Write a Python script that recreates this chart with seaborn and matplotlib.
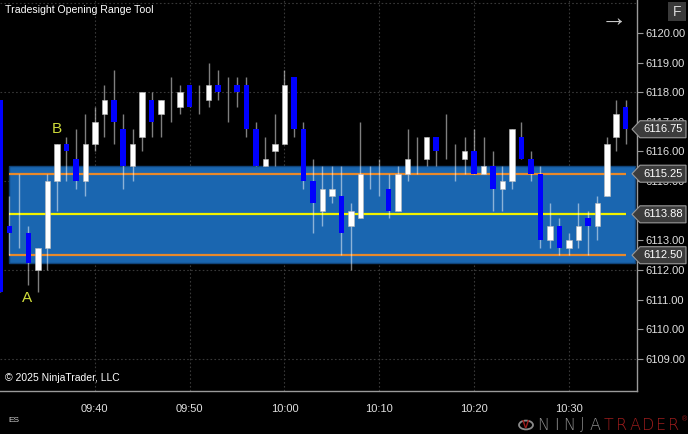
import numpy as np
import matplotlib
matplotlib.use("Agg")
import matplotlib.pyplot as plt
import matplotlib.transforms as mtransforms
from matplotlib.patches import Polygon, Rectangle, Circle
import seaborn as sns

# 1-minute bars, 09:30 .. 10:36
opens = [6117.75, 6113.5, 6113.5, 6113.25, 6112.0, 6112.75, 6115.0, 6116.25, 6115.75, 6115.0,
         6116.25, 6117.25, 6117.75, 6116.75, 6115.5, 6116.5, 6117.75, 6117.25, 6117.75, 6117.5,
         6118.25, 6117.75, 6117.75, 6118.25, 6118.0, 6118.25, 6118.25, 6116.75, 6115.5, 6116.0,
         6116.25, 6118.5, 6116.75, 6115.0, 6114.0, 6114.5, 6114.5, 6113.5, 6113.75, 6115.25,
         6115.0, 6114.75, 6114.0, 6115.25, 6116.0, 6115.75, 6116.5, 6116.5, 6115.5, 6115.75,
         6116.0, 6115.25, 6115.5, 6114.75, 6115.0, 6116.5, 6115.75, 6115.25, 6113.0, 6113.5,
         6112.75, 6113.0, 6113.75, 6113.5, 6114.5, 6116.5, 6117.5]
highs = [6117.75, 6114.5, 6115.25, 6113.5, 6112.75, 6115.25, 6116.25, 6116.5, 6116.75, 6117.25,
         6117.5, 6118.25, 6118.75, 6117.25, 6116.75, 6118.0, 6118.0, 6117.75, 6118.5, 6118.25,
         6118.25, 6118.25, 6119.0, 6118.75, 6118.5, 6118.5, 6118.5, 6117.0, 6116.5, 6117.25,
         6118.75, 6118.5, 6117.0, 6115.75, 6115.5, 6115.5, 6115.5, 6114.25, 6117.0, 6115.5,
         6115.75, 6115.25, 6115.5, 6116.75, 6116.5, 6116.5, 6116.5, 6117.25, 6116.25, 6116.5,
         6116.75, 6116.5, 6116.0, 6115.5, 6116.75, 6117.0, 6116.0, 6115.5, 6114.25, 6113.75,
         6113.25, 6114.25, 6114.0, 6114.5, 6116.5, 6117.75, 6117.75]
lows = [6111.25, 6112.5, 6112.75, 6111.5, 6111.25, 6112.0, 6114.0, 6115.0, 6114.75, 6114.5,
        6116.0, 6116.5, 6116.25, 6114.75, 6115.0, 6116.0, 6116.5, 6116.5, 6117.0, 6117.25,
        6117.5, 6117.25, 6117.5, 6117.75, 6117.0, 6117.5, 6116.5, 6115.5, 6115.5, 6115.5,
        6116.25, 6116.5, 6114.75, 6113.25, 6113.5, 6114.25, 6112.5, 6112.0, 6113.75, 6114.75,
        6114.5, 6113.75, 6114.0, 6115.0, 6115.25, 6115.5, 6115.5, 6115.75, 6115.0, 6115.25,
        6115.25, 6115.25, 6114.0, 6114.0, 6114.75, 6115.75, 6115.0, 6112.75, 6112.75, 6112.5,
        6112.5, 6112.75, 6112.5, 6113.0, 6114.5, 6116.0, 6116.25]
closes = [6111.25, 6113.25, 6113.5, 6112.25, 6112.75, 6115.0, 6116.25, 6116.0, 6115.0, 6116.25,
          6117.0, 6117.75, 6117.0, 6115.5, 6116.25, 6118.0, 6117.0, 6117.75, 6117.75, 6118.0,
          6117.5, 6117.75, 6118.25, 6118.0, 6118.0, 6118.0, 6116.75, 6115.5, 6115.75, 6116.25,
          6118.25, 6116.75, 6115.0, 6114.25, 6114.75, 6114.75, 6113.25, 6114.0, 6115.25, 6115.25,
          6115.0, 6114.0, 6115.25, 6115.75, 6116.0, 6116.5, 6116.0, 6116.5, 6115.5, 6116.0,
          6115.25, 6115.5, 6114.75, 6115.0, 6116.75, 6115.75, 6115.25, 6113.0, 6113.5, 6112.75,
          6113.0, 6113.5, 6113.5, 6114.25, 6116.25, 6117.25, 6116.75]

time_ticks = [10, 20, 30, 40, 50, 60]
time_labels = ["09:40", "09:50", "10:00", "10:10", "10:20", "10:30"]
# 6114.00 sits fully behind the 6113.88 tag in the original, so it is left out
price_ticks = [6109, 6110, 6111, 6112, 6113, 6115, 6116, 6117, 6118, 6119, 6120]
grid_prices = [6109, 6112, 6115, 6118, 6121]

range_high = 6115.25
range_low = 6112.50
range_mid = 6113.88
last_price = 6116.75
box_top = 6115.5
box_bottom = 6112.25

sns.set_theme(style="dark", rc={"axes.facecolor": "black", "figure.facecolor": "black"})
plt.rcParams['font.family'] = ['Liberation Sans', 'DejaVu Sans']

df_t = np.arange(len(opens))
o = np.array(opens)
c = np.array(closes)

fig = plt.figure(figsize=(6.88, 4.34), dpi=100)
ax = fig.add_axes([0, 43 / 434, 637 / 688, 391 / 434])
ax.set_facecolor("black")
ax.set_xlim(0, 67.19)
ax.set_ylim(6107.92, 6121.11)

# grid
for p in grid_prices:
    ax.axhline(p, color="#383838", lw=0.8, ls=(0, (1.5, 2)), zorder=0)
for t in time_ticks:
    ax.axvline(t, color="#383838", lw=0.8, ls=(0, (1.5, 2)), zorder=0)

# opening range box and lines
ax.add_patch(Rectangle((1, box_bottom), 66, box_top - box_bottom,
                       facecolor="#1a66b0", edgecolor="#10447a", lw=1, zorder=1))
ax.hlines([range_high, range_low], 1, 66, color="#e8892b", lw=1.6, zorder=2)
ax.hlines(range_mid, 1, 66, color="#f2f200", lw=1.6, zorder=2)

# candles
ax.vlines(df_t, lows, highs, color=(1, 1, 1, 0.5), lw=1, zorder=3)
up = c > o
down = c < o
ax.bar(df_t[up], (c - o)[up], bottom=o[up], width=0.58, color="white",
       edgecolor="#bbbbbb", linewidth=0.4, zorder=4)
ax.bar(df_t[down], (c - o)[down], bottom=o[down], width=0.58, color="#0000ff",
       linewidth=0, zorder=4)

# A / B markers
ax.text(2.9, 6111.05, "A", color="#cfdc3a", fontsize=11, ha="center", va="center", zorder=5)
ax.text(6.0, 6116.75, "B", color="#cfdc3a", fontsize=11, ha="center", va="center", zorder=5)

# axes styling
ax.yaxis.tick_right()
ax.set_yticks(price_ticks)
ax.set_yticklabels([f"{p:.2f}" for p in price_ticks])
ax.set_xticks(time_ticks)
ax.set_xticklabels(time_labels)
ax.tick_params(axis="both", colors="#9a9a9a", labelcolor="#e0e0e0", length=4, width=0.8,
               direction="out", labelsize=8)
ax.tick_params(axis="x", pad=5)
ax.tick_params(axis="y", pad=2)
for side in ["top", "left"]:
    ax.spines[side].set_visible(False)
for side in ["right", "bottom"]:
    ax.spines[side].set_visible(True)
    ax.spines[side].set_color("#9a9a9a")
    ax.spines[side].set_linewidth(1)
ax.grid(False)

# price tags on the right axis
blend = mtransforms.blended_transform_factory(ax.transAxes, ax.transData)
half = 8.5 / 29.64
for p in [last_price, range_high, range_mid, range_low]:
    x0, x1, x2 = 632 / 637, 640 / 637, 686 / 637
    poly = Polygon([(x0, p), (x1, p + half), (x2, p + half), (x2, p - half), (x1, p - half)],
                   closed=True, transform=blend, facecolor="#3c3c3c", edgecolor="#9a9a9a",
                   lw=0.8, clip_on=False, zorder=10)
    ax.add_patch(poly)
    ax.text(663 / 637, p, f"{p:.2f}", transform=blend, color="white", fontsize=8,
            ha="center", va="center", clip_on=False, zorder=11)

# texts
fig.text(5 / 688, 1 - 10 / 434, "Tradesight Opening Range Tool", color="white",
         fontsize=7.6, ha="left", va="center")
fig.text(5 / 688, 1 - 378 / 434, "\u00a9 2025 NinjaTrader, LLC", color="white",
         fontsize=7.5, ha="left", va="center")
fig.text(8 / 688, 1 - 421 / 434, "ES", color="#d0d0d0", fontsize=6, ha="left", va="center")
fig.text(614 / 688, 1 - 19 / 434, "\u2192", color="#c8c8c8", fontsize=19,
         ha="center", va="center", fontweight="light")
fig.patches.append(Rectangle((668 / 688, 1 - 21 / 434), 18 / 688, 19 / 434,
                             transform=fig.transFigure, facecolor="#3a3a3a",
                             edgecolor="none", figure=fig))
fig.text(677 / 688, 1 - 11.5 / 434, "F", color="#d8d8d8", fontsize=10, ha="center",
         va="center")

# NinjaTrader logo
fig.patches.append(Circle((526 / 688, 1 - 425 / 434), 7 / 688, transform=fig.transFigure,
                          facecolor="none", edgecolor="#8a8a8a", lw=1.3, figure=fig))
fig.text(526 / 688, 1 - 425 / 434, "V", color="#9b1c1c", fontsize=8, fontweight="bold",
         ha="center", va="center")
logo_letters = "NINJATRADER"
for i, ch in enumerate(logo_letters):
    fig.text((543 + i * 13.1) / 688, 1 - 425 / 434, ch,
             color="#8f8f8f" if i < 5 else "#9b1c1c", fontsize=11.5,
             family="DejaVu Sans", fontweight="light", ha="center", va="center")
fig.text(682 / 688, 1 - 420 / 434, "\u00ae", color="#9b1c1c", fontsize=5,
         ha="left", va="center")

fig.savefig("out.png", dpi=100, facecolor="black")
plt.close(fig)
